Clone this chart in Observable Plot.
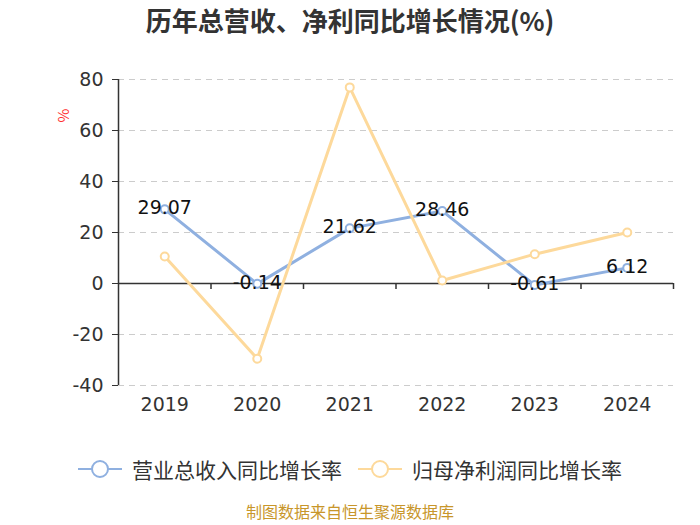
<!DOCTYPE html>
<html><head><meta charset="utf-8">
<script src="https://cdn.jsdelivr.net/npm/d3@7"></script>
<script src="https://cdn.jsdelivr.net/npm/@observablehq/plot@0.6"></script>
<style>
html,body{margin:0;background:#fff;font-family:"Noto Sans CJK SC","Noto Sans",sans-serif;}
#wrap{position:relative;width:700px;height:525px;overflow:hidden;}
#title{position:absolute;left:0;top:3px;width:700px;text-align:center;font-size:26px;font-weight:bold;color:#333;line-height:34px;}
#legend{position:absolute;left:0;top:454px;width:700px;height:30px;display:flex;justify-content:center;align-items:center;font-size:21px;color:#333;}
.li{display:flex;align-items:center;margin:0 8px;line-height:30px;}
.li svg{margin-right:10px;}
#caption{position:absolute;left:0;top:501px;width:700px;text-align:center;font-size:16px;color:#c8962a;line-height:20px;}
#chart{position:absolute;left:0;top:0;}
</style></head>
<body>
<div id="wrap">
<div id="chart"></div>
<div id="title">历年总营收、净利同比增长情况(%)</div>
<div id="legend"></div>
<div id="caption">制图数据来自恒生聚源数据库</div>
</div>
<script>
const years = [2019, 2020, 2021, 2022, 2023, 2024];
const revenueGrowth = [29.07, -0.14, 21.62, 28.46, -0.61, 6.12];
const profitGrowth = [10.6, -29.5, 76.9, 1.2, 11.5, 20.0];
const yTicks = [-40, -20, 0, 20, 40, 60, 80];
const seriesNames = ["营业总收入同比增长率", "归母净利润同比增长率"];
const colors = ["#8fb0e0", "#fdd99b"];

const rev = years.map((y, i) => ({year: y, value: revenueGrowth[i]}));
const prof = years.map((y, i) => ({year: y, value: profitGrowth[i]}));
const boundaries = years.map(y => y + 0.5);
const numFont = '"DejaVu Sans",sans-serif';

const chart = Plot.plot({
  width: 700,
  height: 525,
  marginLeft: 118,
  marginRight: 27,
  marginTop: 79,
  marginBottom: 140,
  style: {fontFamily: '"Noto Sans CJK SC","Noto Sans",sans-serif', background: "transparent"},
  x: {type: "linear", domain: [years[0] - 0.5, years[years.length - 1] + 0.5]},
  y: {domain: [-40, 80]},
  marks: [
    Plot.gridY(yTicks.filter(d => d !== 0), {stroke: "#cccccc", strokeOpacity: 1, strokeDasharray: "6,5", strokeWidth: 1}),
    Plot.axisY(yTicks, {tickSize: 6, tickPadding: 9, fontSize: 19, fontFamily: numFont, fill: "#333", stroke: "#333", tickFormat: d => String(d), label: null}),
    Plot.ruleX([years[0] - 0.5], {stroke: "#333", strokeWidth: 1.5}),
    Plot.ruleY([0], {stroke: "#333", strokeWidth: 1.5}),
    Plot.ruleX(boundaries, {x: d => d, y1: 0, y2: 0, insetBottom: -6, stroke: "#333", strokeWidth: 1.5}),
    Plot.axisX(years, {tickSize: 0, tickPadding: 12, fontSize: 19, fontFamily: numFont, fill: "#333", tickFormat: d => String(d), label: null}),
    Plot.line(rev, {x: "year", y: "value", stroke: colors[0], strokeWidth: 3}),
    Plot.line(prof, {x: "year", y: "value", stroke: colors[1], strokeWidth: 3}),
    Plot.dot(rev, {x: "year", y: "value", r: 4, fill: "#fff", stroke: colors[0], strokeWidth: 2}),
    Plot.dot(prof, {x: "year", y: "value", r: 4, fill: "#fff", stroke: colors[1], strokeWidth: 2}),
    Plot.text(rev, {x: "year", y: "value", text: d => d.value.toFixed(2), fontSize: 19, fontFamily: numFont, fill: "#111", dy: -1}),
    Plot.text(["%"], {frameAnchor: "top-left", dx: -60, dy: 43, rotate: -90, text: d => d, fill: "#ff3333", fontSize: 15})
  ]
});
document.getElementById("chart").appendChild(chart);

const legend = document.getElementById("legend");
seriesNames.forEach((name, i) => {
  const item = document.createElement("div");
  item.className = "li";
  item.innerHTML = `<svg width="44" height="24"><line x1="0" y1="12" x2="44" y2="12" stroke="${colors[i]}" stroke-width="2"/><circle cx="22" cy="12" r="8" fill="#fff" stroke="${colors[i]}" stroke-width="2"/></svg><span>${name}</span>`;
  legend.appendChild(item);
});
</script>
</body></html>
